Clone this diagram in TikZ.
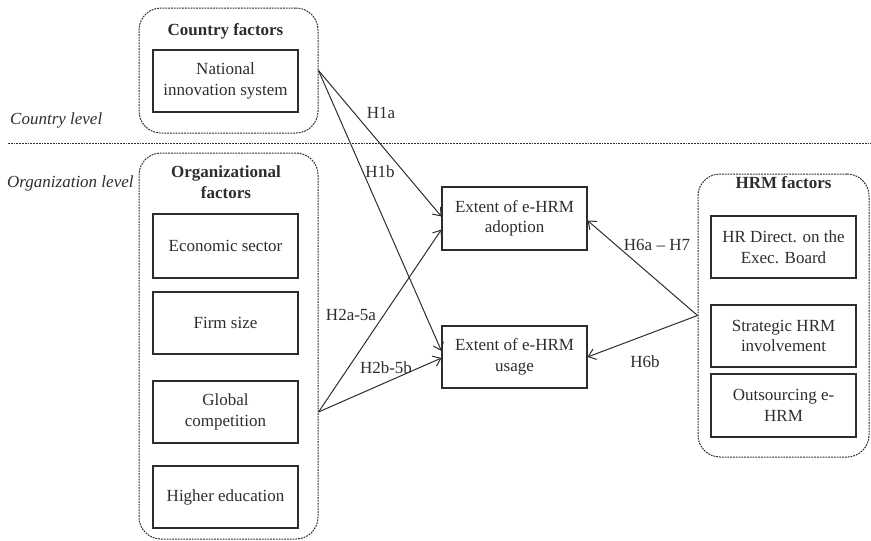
\documentclass[tikz,border=0pt]{standalone}
\usepackage{fontspec}
\setmainfont{Liberation Serif}
\usetikzlibrary{arrows.meta}
\definecolor{ink}{RGB}{45,45,45}
\begin{document}
\begin{tikzpicture}[x=1pt,y=-1pt,
  every node/.style={font=\fontsize{17pt}{20.5pt}\selectfont, text=ink, align=center, inner sep=0pt},
  group/.style={draw=ink, line width=1pt, dash pattern=on 1.8pt off 1pt, rounded corners=22pt},
  factor/.style={draw=ink, line width=1.1pt, minimum width=145pt, minimum height=62pt},
  title/.style={font=\fontsize{17pt}{20.5pt}\selectfont\bfseries},
  lvl/.style={font=\fontsize{17pt}{20.5pt}\selectfont\itshape, anchor=west},
  hyp/.style={font=\fontsize{17pt}{20.5pt}\selectfont},
  link/.style={draw=ink, line width=1pt, -{Straight Barb[length=7pt,width=11pt,line width=1pt]}}
]
\useasboundingbox (0,0) rectangle (871,541);

% level separator
\coordinate (sepL) at (8,143);
\coordinate (sepR) at (871,143);
\draw[ink, line width=1pt, dash pattern=on 1.8pt off 1pt] (sepL) -- (sepR);
\node[lvl] (lvlc) at (10,120) {Country level};
\node[lvl] (lvlo) at (7,183) {Organization level};

% country factors
\node[group, minimum width=179pt, minimum height=125pt] (cty) at (228.5,70.5) {};
\node[title] (ctitle) at (225.5,31) {Country factors};
\node[factor] (nis) at (225.5,81) {National\\innovation system};

% organizational factors
\node[group, minimum width=179pt, minimum height=386pt] (org) at (228.5,346) {};
\node[title] (otitle) at (226,182) {Organizational\\factors};
\node[factor, minimum height=64pt] (eco) at (225.5,246) {Economic sector};
\node[factor] (firm) at (225.5,323) {Firm size};
\node[factor] (glob) at (225.5,412) {Global\\competition};
\node[factor] (high) at (225.5,497) {Higher education};

% outcomes
\node[factor, minimum height=63pt] (adop) at (514.5,218.5) {Extent of e-HRM\\adoption};
\node[factor] (use) at (514.5,357) {Extent of e-HRM\\usage};

% HRM factors
\node[group, minimum width=171pt, minimum height=283pt] (hrm) at (783.5,315.5) {};
\node[title] (htitle) at (783.5,183) {HRM factors};
\node[factor] (hrd) at (783.5,247) {HR Direct. on the\\Exec. Board};
\node[factor] (shrm) at (783.5,336) {Strategic HRM\\involvement};
\node[factor, minimum height=63pt] (outs) at (783.5,405.5) {Outsourcing e-\\HRM};

% hypotheses
\coordinate (orgout) at (org.east |- glob.east);
\draw[link] (cty.east) -- ([yshift=2pt]adop.west);
\draw[link] (cty.east) -- ([yshift=6pt]use.west);
\draw[link] (orgout) -- ([yshift=-11pt]adop.west);
\draw[link] (orgout) -- ([yshift=-1pt]use.west);
\draw[link] (hrm.west) -- ([yshift=-2pt]adop.east);
\draw[link] (hrm.west) -- (use.east);

\node[hyp] (h1a) at (381,113) {H1a};
\node[hyp] (h1b) at (380,172) {H1b};
\node[hyp] (h2a) at (351,315) {H2a-5a};
\node[hyp] (h2b) at (386,368) {H2b-5b};
\node[hyp] (h6a) at (657,245) {H6a -- H7};
\node[hyp] (h6b) at (645,362) {H6b};
\end{tikzpicture}
\end{document}
